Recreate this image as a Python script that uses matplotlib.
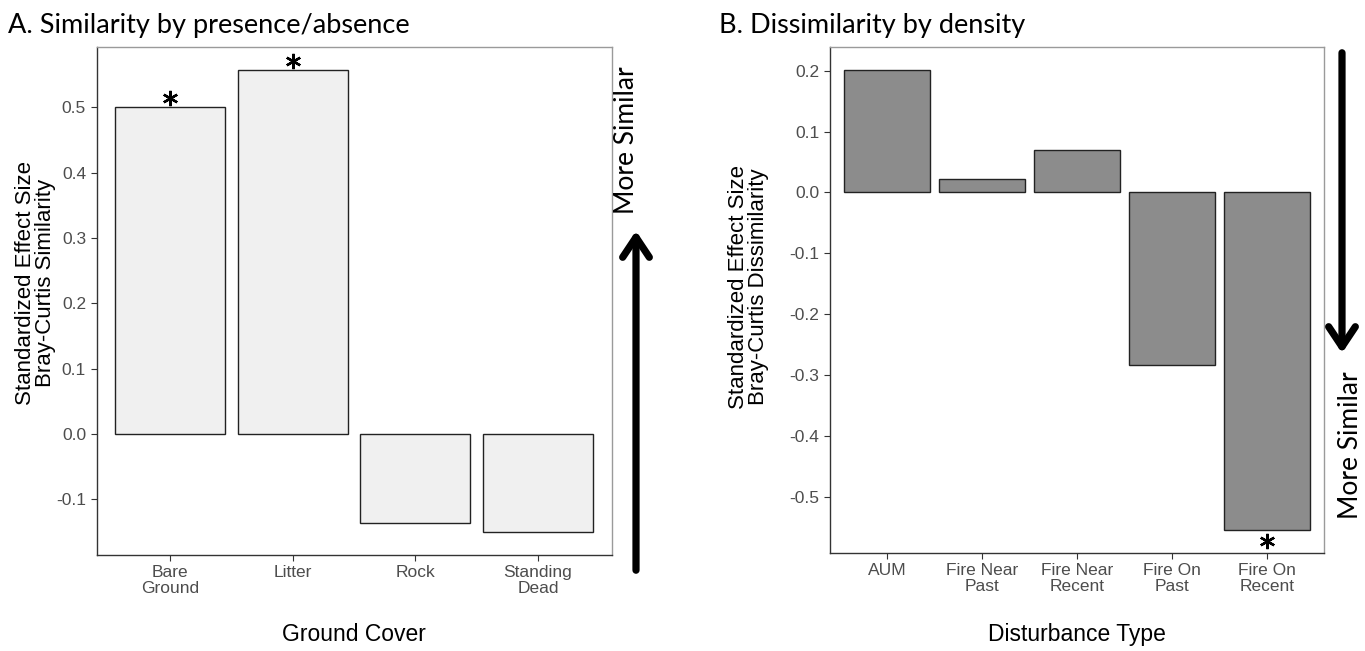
import matplotlib
matplotlib.use('Agg')
import matplotlib.pyplot as plt
import matplotlib.transforms as mtransforms
import numpy as np

# data
cover = ['Bare\nGround', 'Litter', 'Rock', 'Standing\nDead']
cover_ses = [0.501, 0.557, -0.137, -0.150]
cover_sig = [True, True, False, False]

disturb = ['AUM', 'Fire Near\nPast', 'Fire Near\nRecent', 'Fire On\nPast', 'Fire On\nRecent']
disturb_ses = [0.201, 0.022, 0.069, -0.284, -0.554]
disturb_sig = [False, False, False, False, True]

plt.rcParams['font.family'] = ['Liberation Sans', 'DejaVu Sans']
titlefont = ['Lato', 'DejaVu Sans']

fig = plt.figure(figsize=(13.65, 6.51), dpi=100)
W, H = 1365, 651

def style(ax, ticks):
    ax.set_yticks(ticks)
    ax.set_yticklabels(['%.1f' % t for t in ticks])
    for s in ['top', 'right']:
        ax.spines[s].set_color('#9a9a9a')
    for s in ['left', 'bottom']:
        ax.spines[s].set_color('#333333')
    for s in ax.spines.values():
        s.set_linewidth(1.0)
    ax.tick_params(axis='both', colors='#333333', labelcolor='#4D4D4D', labelsize=12.5, length=4, width=0.8)
    ax.grid(False)

def make_panel(ax, cats, vals, sig, fill, xlabel, ylabel):
    x = np.arange(1, len(cats) + 1)
    ax.bar(x, vals, width=0.9, color=fill, edgecolor='#222222', linewidth=1.0)
    lo, hi = min(min(vals), 0), max(max(vals), 0)
    pad = 0.05 * (hi - lo)
    ax.set_ylim(lo - pad, hi + pad)
    ax.set_xlim(0.4, len(cats) + 0.6)
    ax.set_xticks(x)
    ax.set_xticklabels(cats, linespacing=1.05)
    up = mtransforms.offset_copy(ax.transData, fig, y=9, units='dots')
    down = mtransforms.offset_copy(ax.transData, fig, y=-11, units='dots')
    for xi, v, s in zip(x, vals, sig):
        if s:
            ax.plot([xi], [v], linestyle='none', marker=(6, 2, 0), markersize=11,
                    markeredgewidth=1.7, color='black', transform=up if v >= 0 else down,
                    clip_on=False)
    ax.set_xlabel(xlabel, fontsize=16.5)
    ax.set_ylabel(ylabel, fontsize=16, linespacing=0.95)

axA = fig.add_axes([96.5 / W, (651 - 555) / H, 515 / W, 508 / H])
make_panel(axA, cover, cover_ses, cover_sig, '#F0F0F0', 'Ground Cover',
           'Standardized Effect Size\nBray-Curtis Similarity')
style(axA, [-0.1, 0.0, 0.1, 0.2, 0.3, 0.4, 0.5])
axA.yaxis.set_label_coords(-0.078, 0.535)
axA.xaxis.set_label_coords(0.5, -0.134)

axB = fig.add_axes([830 / W, (651 - 553) / H, 494 / W, 506 / H])
make_panel(axB, disturb, disturb_ses, disturb_sig, '#8C8C8C', 'Disturbance Type',
           'Standardized Effect Size\nBray-Curtis Dissimilarity')
style(axB, [-0.5, -0.4, -0.3, -0.2, -0.1, 0.0, 0.1, 0.2])
axB.yaxis.set_label_coords(-0.124, 0.526)
axB.xaxis.set_label_coords(0.5, -0.138)

# panel titles
fig.text(8 / W, (651 - 33) / H, 'A. Similarity by presence/absence', fontsize=19.5,
         family=titlefont, ha='left', va='baseline')
fig.text(719 / W, (651 - 33) / H, 'B. Dissimilarity by density', fontsize=19.5,
         family=titlefont, ha='left', va='baseline')

# "More Similar" arrows
fig.add_artist(matplotlib.patches.FancyArrowPatch(
    (636 / W, (651 - 573) / H), (636 / W, (651 - 228) / H), transform=fig.transFigure,
    arrowstyle='->,head_length=1.2,head_width=0.8', lw=5.2, color='black', mutation_scale=12))
fig.text(627 / W, (651 - 140) / H, 'More Similar', rotation=90, ha='center', va='center',
         fontsize=19, family=titlefont)

fig.add_artist(matplotlib.patches.FancyArrowPatch(
    (1342 / W, (651 - 50) / H), (1342 / W, (651 - 356) / H), transform=fig.transFigure,
    arrowstyle='->,head_length=1.2,head_width=0.8', lw=5.2, color='black', mutation_scale=12))
fig.text(1350 / W, (651 - 445) / H, 'More Similar', rotation=90, ha='center', va='center',
         fontsize=19, family=titlefont)

fig.savefig('out.png', dpi=100)
